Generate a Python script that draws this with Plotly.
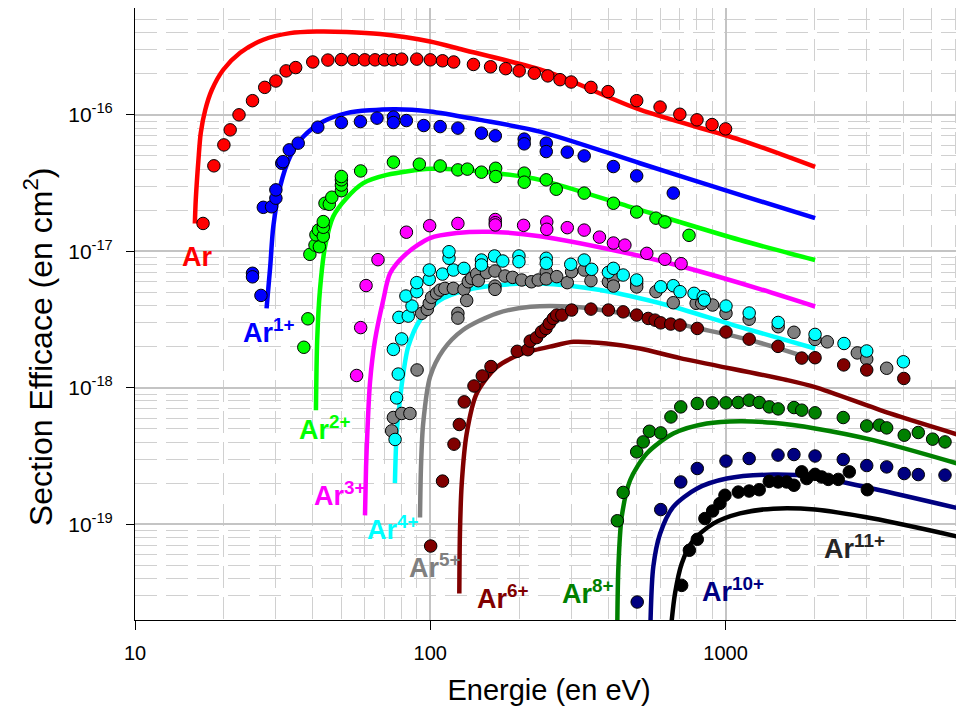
import math
import plotly.graph_objects as go

# ---------------- data ----------------
# Ar (neutral)
ar_E = [17, 18.5, 20, 21, 22.5, 25, 27.5, 30, 32.5, 35, 40, 45, 50, 55, 60, 65, 70, 75, 80, 90,
        100, 110, 120, 140, 160, 180, 200, 225, 250, 275, 300, 350, 400, 500, 600, 700, 800, 900, 1000]
ar_S = [1.60e-17, 4.23e-17, 6.02e-17, 7.76e-17, 1.00e-16, 1.27e-16, 1.59e-16, 1.77e-16, 2.10e-16, 2.22e-16,
        2.44e-16, 2.52e-16, 2.54e-16, 2.54e-16, 2.53e-16, 2.53e-16, 2.53e-16, 2.53e-16, 2.56e-16, 2.56e-16,
        2.53e-16, 2.49e-16, 2.44e-16, 2.34e-16, 2.25e-16, 2.18e-16, 2.10e-16, 2.02e-16, 1.93e-16, 1.81e-16,
        1.74e-16, 1.59e-16, 1.48e-16, 1.27e-16, 1.14e-16, 1.01e-16, 9.19e-17, 8.49e-17, 7.89e-17]
ar_fit_E = [15.95, 16.06, 16.4, 16.7, 17.3, 18.2, 19.9, 22.7, 27.2, 33.5, 41.2, 52.1, 67.6, 99.8, 129, 248, 513, 1119, 2010]
ar_fit_S = [1.6e-17, 2.38e-17, 4.68e-17, 7.38e-17, 1.09e-16, 1.52e-16, 2.14e-16, 2.85e-16, 3.55e-16, 3.97e-16,
            4.08e-16, 4.05e-16, 3.91e-16, 3.45e-16, 3.0e-16, 2.07e-16, 1.09e-16, 6.56e-17, 4.15e-17]

# Ar1+
ar1_E = [25, 25, 26.7, 27.2, 29, 30, 30, 31.4, 31.7, 33.3, 35.7, 41.6, 50, 58, 66, 75, 75, 83, 95, 108,
         124, 149, 166, 208, 208, 247, 247, 291, 332, 417, 500, 665]
ar1_S = [6.9e-18, 6.5e-18, 4.75e-18, 2.10e-17, 2.12e-17, 2.45e-17, 2.82e-17, 4.42e-17, 4.54e-17, 5.54e-17,
         6.2e-17, 8.12e-17, 8.78e-17, 8.93e-17, 9.46e-17, 9.62e-17, 8.78e-17, 9.08e-17, 8.35e-17, 8.2e-17,
         7.99e-17, 7.34e-17, 7.02e-17, 6.64e-17, 6.13e-17, 6.2e-17, 5.38e-17, 5.33e-17, 5.0e-17, 4.18e-17,
         3.57e-17, 2.67e-17]
ar1_fit_E = [27.9, 28.7, 29.4, 31.0, 33.5, 37.2, 43.4, 52.1, 75.0, 99.8, 147, 235, 513, 1119, 2010]
ar1_fit_S = [3.82e-18, 7.71e-18, 1.52e-17, 2.98e-17, 4.94e-17, 6.93e-17, 8.93e-17, 1.03e-16, 1.10e-16,
             1.06e-16, 9.19e-17, 7.54e-17, 4.42e-17, 2.59e-17, 1.75e-17]

# Ar2+
ar2_E = [37.3, 38.5, 39.1, 40.7, 42.1, 41.0, 41.8, 43.4, 43.4, 43.4, 44, 45.5, 46.4, 50, 50, 50, 50, 58.1, 75, 91.8,
         108, 124, 133.5, 149, 166.5, 166.5, 208, 208, 247, 267, 332, 417, 500, 581, 623, 752]
ar2_S = [1.98e-18, 3.2e-18, 9.5e-18, 1.11e-17, 1.08e-17, 1.32e-17, 1.43e-17, 1.29e-17, 1.50e-17, 1.65e-17,
         2.25e-17, 2.21e-17, 2.49e-17, 2.78e-17, 3.06e-17, 3.34e-17, 3.53e-17, 3.88e-17, 4.5e-17, 4.35e-17,
         4.22e-17, 3.95e-17, 4.0e-17, 3.8e-17, 4.06e-17, 3.53e-17, 3.74e-17, 3.21e-17, 3.34e-17, 2.85e-17,
         2.67e-17, 2.25e-17, 1.94e-17, 1.75e-17, 1.64e-17, 1.31e-17]
ar2_fit_E = [41.0, 41.4, 42.3, 44.0, 46.9, 52.1, 59.3, 71.2, 99.8, 129, 168, 235, 513, 1119, 2010]
ar2_fit_S = [6.85e-19, 2.24e-18, 5.2e-18, 1.08e-17, 1.80e-17, 2.46e-17, 3.16e-17, 3.63e-17, 4.02e-17,
             3.95e-17, 3.74e-17, 3.34e-17, 2.01e-17, 1.21e-17, 8.63e-18]

# Ar3+
ar3_E = [56.3, 58.1, 60.6, 66.5, 83, 99.5, 124, 166, 166, 166, 207, 248, 248, 291, 332, 374, 417, 456, 541, 623, 707]
ar3_S = [1.23e-18, 2.76e-18, 5.61e-18, 8.68e-18, 1.38e-17, 1.54e-17, 1.60e-17, 1.71e-17, 1.62e-17, 1.56e-17,
         1.55e-17, 1.64e-17, 1.45e-17, 1.49e-17, 1.43e-17, 1.27e-17, 1.15e-17, 1.11e-17, 9.66e-18, 8.74e-18, 8.11e-18]
ar3_fit_E = [60.1, 60.6, 61.2, 62.5, 65.0, 69.3, 73.1, 83.2, 99.8, 122.8, 159, 235, 513, 701, 1308, 2010]
ar3_fit_S = [1.16e-19, 2.63e-19, 4.62e-19, 1.10e-18, 2.24e-18, 4.39e-18, 6.9e-18, 9.66e-18, 1.25e-17,
             1.36e-17, 1.39e-17, 1.29e-17, 9.24e-18, 7.8e-18, 5.29e-18, 3.94e-18]

# Ar4+
ar4_E = [76, 76.9, 77.9, 75, 80, 78.3, 84.2, 86.7, 82.7, 90, 90, 99.2, 99.2, 110, 119.7, 130, 115.7, 115.7, 149, 149,
         165, 176, 199.6, 199.6, 247, 247, 299, 332, 352, 401, 417, 450, 500, 603, 665, 701, 782, 840, 848, 1003,
         1202, 1507, 2009, 2518, 3006, 4000]
ar4_S = [4.18e-19, 8.43e-19, 1.26e-18, 1.91e-18, 2.28e-18, 3.28e-18, 3.35e-18, 3.97e-18, 4.7e-18, 5.06e-18,
         5.89e-18, 6.23e-18, 7.29e-18, 6.81e-18, 7.29e-18, 7.5e-18, 8.89e-18, 9.93e-18, 8.63e-18, 7.94e-18,
         9.24e-18, 8.49e-18, 9.24e-18, 8.39e-18, 8.89e-18, 8.17e-18, 8.03e-18, 8.63e-18, 7.38e-18, 7.01e-18,
         7.5e-18, 6.7e-18, 6.16e-18, 5.5e-18, 5.6e-18, 5.06e-18, 4.92e-18, 4.65e-18, 4.39e-18, 3.97e-18,
         3.53e-18, 3.01e-18, 2.46e-18, 2.11e-18, 1.86e-18, 1.55e-18]
ar4_fit_E = [75.9, 76.9, 78.9, 81.0, 84.2, 92.3, 108, 132.8, 172, 235, 376, 632, 1062, 2010]
ar4_fit_S = [2.0e-19, 4.62e-19, 8.1e-19, 1.27e-18, 2.0e-18, 3.13e-18, 4.39e-18, 5.2e-18, 5.66e-18,
             5.82e-18, 5.2e-18, 4.04e-18, 2.88e-18, 1.94e-18]

# Ar5+
ar5_E = [74, 75, 80, 85.3, 90.2, 93.5, 97.7, 99.2, 101, 105, 108, 112, 119.7, 124, 124, 130, 132.8, 134.5, 138, 143.6,
         145.4, 155, 165.6, 165.6, 165.6, 179, 190, 204, 220, 232, 247, 247, 268, 291, 301, 332, 350, 401, 417, 417,
         500, 500, 581, 665, 795, 830, 904, 1003, 1202, 1507, 1704, 2009, 2210, 2793, 3006, 3512]
ar5_S = [4.83e-19, 6.05e-19, 6.48e-19, 6.48e-19, 1.35e-18, 3.51e-18, 3.75e-18, 4.15e-18, 4.6e-18, 4.92e-18,
         5.2e-18, 5.35e-18, 5.35e-18, 3.51e-18, 3.24e-18, 5.26e-18, 4.36e-18, 5.98e-18, 6.34e-18, 6.82e-18,
         6.09e-18, 6.97e-18, 7.17e-18, 5.56e-18, 5.26e-18, 6.59e-18, 6.44e-18, 6.16e-18, 5.98e-18, 6.16e-18,
         7.08e-18, 6.28e-18, 6.52e-18, 5.89e-18, 7.08e-18, 7.29e-18, 6.09e-18, 5.98e-18, 6.34e-18, 5.56e-18,
         5.82e-18, 5.48e-18, 5.06e-18, 4.2e-18, 4.16e-18, 4.16e-18, 4.04e-18, 3.51e-18, 3.18e-18, 2.8e-18,
         2.55e-18, 2.26e-18, 2.17e-18, 1.80e-18, 1.62e-18, 1.39e-18]
ar5_fit_E = [92.3, 93.0, 94.6, 99.8, 110.6, 129, 168, 218, 305, 555, 798, 1210, 2010]
ar5_fit_S = [1.12e-19, 2.63e-19, 5.47e-19, 1.2e-18, 1.89e-18, 2.65e-18, 3.51e-18, 3.92e-18, 3.92e-18,
             3.24e-18, 2.74e-18, 2.24e-18, 1.60e-18]

# Ar6+
ar6_E = [100.3, 110, 120.3, 125.4, 130.3, 140.6, 150, 160.5, 197, 214, 218, 229, 238, 246.5, 253, 261, 268, 279, 301, 350,
         401, 450, 500, 547, 577, 603, 652, 701, 802, 1003, 1202, 1505, 1811, 2009, 2512, 3006, 4013]
ar6_S = [6.92e-20, 2.07e-19, 3.86e-19, 5.38e-19, 7.88e-19, 1.03e-18, 1.22e-18, 1.43e-18, 1.85e-18, 1.90e-18,
         2.2e-18, 2.33e-18, 2.57e-18, 2.72e-18, 2.96e-18, 3.22e-18, 3.41e-18, 3.41e-18, 3.71e-18, 3.77e-18,
         3.71e-18, 3.6e-18, 3.41e-18, 3.22e-18, 3.13e-18, 2.99e-18, 2.93e-18, 2.88e-18, 2.72e-18, 2.56e-18,
         2.27e-18, 2.01e-18, 1.65e-18, 1.66e-18, 1.47e-18, 1.35e-18, 1.17e-18]
ar6_fit_E = [125.4, 126, 127.8, 132.8, 143.6, 168, 206.5, 254, 305, 395, 513, 701, 1610, 2010, 3602, 6214]
ar6_fit_S = [3.1e-20, 8.5e-20, 1.99e-19, 4.62e-19, 9.08e-19, 1.42e-18, 1.79e-18, 2.0e-18, 2.17e-18, 2.11e-18,
             1.94e-18, 1.65e-18, 1.14e-18, 1.01e-18, 6.48e-19, 4.49e-19]

# Ar8+
ar8_E = [430, 450, 500, 526, 552, 603, 653, 705, 802, 902, 1003, 1104, 1202, 1300, 1406, 1507, 1704, 1811, 2009, 2503,
         3006, 3315, 3512, 4027, 4494, 5025, 5534]
ar8_S = [1.06e-19, 1.71e-19, 3.39e-19, 4.01e-19, 4.8e-19, 4.67e-19, 6.11e-19, 7.24e-19, 7.67e-19, 7.75e-19,
         7.75e-19, 7.8e-19, 8.1e-19, 7.8e-19, 7.24e-19, 7.0e-19, 7.16e-19, 6.85e-19, 6.55e-19, 6.05e-19,
         5.25e-19, 5.32e-19, 5.08e-19, 4.49e-19, 4.7e-19, 4.2e-19, 4.01e-19]
ar8_fit_E = [430, 433.5, 444.8, 475, 541, 665, 863, 1119, 1450, 2010, 3163, 6214]
ar8_fit_S = [1.97e-20, 4.85e-20, 1.13e-19, 2.1e-19, 3.3e-19, 4.62e-19, 5.47e-19, 5.69e-19, 5.53e-19,
             5.03e-19, 4.13e-19, 2.75e-19]

# Ar10+
ar10_E = [502, 603, 705, 802, 1003, 1202, 1505, 1704, 2009, 2503, 3006, 3512, 4027, 4494, 5534]
ar10_S = [2.69e-20, 1.28e-19, 2.04e-19, 2.56e-19, 2.9e-19, 3.03e-19, 3.21e-19, 3.24e-19, 3.16e-19, 2.98e-19,
          2.69e-19, 2.63e-19, 2.35e-19, 2.31e-19, 2.29e-19]
ar10_fit_E = [557, 569, 600, 665, 798, 1009, 1450, 2010, 3163, 6214]
ar10_fit_S = [1.97e-20, 4.85e-20, 8.5e-20, 1.34e-19, 1.82e-19, 2.16e-19, 2.31e-19, 2.22e-19, 1.82e-19, 1.30e-19]

# Ar11+
ar11_E = [710, 754, 802, 851, 904, 957, 995, 1104, 1202, 1300, 1406, 1507, 1610, 1704, 1811, 1882, 2009, 2115,
          2228, 2408, 2624, 3020]
ar11_S = [3.56e-20, 6.44e-20, 7.75e-20, 1.10e-19, 1.25e-19, 1.42e-19, 1.63e-19, 1.72e-19, 1.75e-19, 1.79e-19,
          2.06e-19, 2.04e-19, 2.04e-19, 1.93e-19, 2.42e-19, 2.16e-19, 2.32e-19, 2.22e-19, 2.13e-19, 2.13e-19,
          2.42e-19, 1.79e-19]
ar11_fit_E = [657, 674, 710, 777, 908, 1119, 1450, 2010, 3163, 6214]
ar11_fit_S = [1.97e-20, 3.1e-20, 5.14e-20, 7.6e-20, 1.01e-19, 1.2e-19, 1.3e-19, 1.28e-19, 1.10e-19, 8.05e-20]

# labels
label_text = ["Ar", "Ar<sup>1+</sup>", "Ar<sup>2+</sup>", "Ar<sup>3+</sup>", "Ar<sup>4+</sup>",
              "Ar<sup>5+</sup>", "Ar<sup>6+</sup>", "Ar<sup>8+</sup>", "Ar<sup>10+</sup>", "Ar<sup>11+</sup>"]
label_E = [14.2, 22.9, 35.4, 39.7, 60.1, 83.4, 141.6, 275, 818, 2118]
label_S = [9.08e-18, 2.6e-18, 5.1e-19, 1.66e-19, 9.33e-20, 4.95e-20, 2.93e-20, 3.19e-20, 3.27e-20, 6.83e-20]

x_tickvals = [10, 100, 1000]
x_ticktext = ["10", "100", "1000"]
y_tickvals = [1e-19, 1e-18, 1e-17, 1e-16]
y_ticktext = ["10<sup>-19</sup>", "10<sup>-18</sup>", "10<sup>-17</sup>", "10<sup>-16</sup>"]
x_title = "Energie (en eV)"
y_title = "Section Efficace (en cm<sup>2</sup>)"

# ---------------- figure ----------------
series = [
    (ar_E, ar_S, ar_fit_E, ar_fit_S, "#ff0000"),
    (ar1_E, ar1_S, ar1_fit_E, ar1_fit_S, "#0000ff"),
    (ar2_E, ar2_S, ar2_fit_E, ar2_fit_S, "#00ff00"),
    (ar3_E, ar3_S, ar3_fit_E, ar3_fit_S, "#ff00ff"),
    (ar5_E, ar5_S, ar5_fit_E, ar5_fit_S, "#808080"),
    (ar4_E, ar4_S, ar4_fit_E, ar4_fit_S, "#00ffff"),
    (ar6_E, ar6_S, ar6_fit_E, ar6_fit_S, "#800000"),
    (ar8_E, ar8_S, ar8_fit_E, ar8_fit_S, "#008000"),
    (ar10_E, ar10_S, ar10_fit_E, ar10_fit_S, "#000080"),
    (ar11_E, ar11_S, ar11_fit_E, ar11_fit_S, "#000000"),
]
label_colors = ["#ff0000", "#0000ff", "#00ff00", "#ff00ff", "#00ffff", "#808080",
                "#800000", "#008000", "#000080", "#262626"]

fig = go.Figure()
for E, S, fE, fS, col in series:
    fig.add_trace(go.Scatter(x=fE, y=fS, mode="lines",
                             line=dict(color=col, width=4.5, shape="spline", smoothing=0.8),
                             showlegend=False, hoverinfo="skip"))
for E, S, fE, fS, col in series:
    fig.add_trace(go.Scatter(x=E, y=S, mode="markers",
                             marker=dict(color=col, size=12.5, line=dict(color="#000000", width=1)),
                             showlegend=False))

font_main = "Arial, Liberation Sans, sans-serif"
for txt, e, s, c in zip(label_text, label_E, label_S, label_colors):
    fig.add_annotation(x=math.log10(e), y=math.log10(s), xref="x", yref="y",
                       text="<b>" + txt + "</b>", showarrow=False,
                       xanchor="left", yanchor="middle",
                       font=dict(family=font_main, size=27, color=c))

# y-axis title (placed as a rotated annotation, left of the tick labels)
fig.add_annotation(x=-0.117, y=0.446, xref="paper", yref="paper",
                   text=y_title, textangle=-90, showarrow=False,
                   xanchor="center", yanchor="middle",
                   font=dict(family=font_main, size=32, color="#000000"))

minor_x = [m * 10 ** k for k in range(1, 4) for m in range(2, 10)]
minor_y = [m * 10.0 ** k for k in range(-20, -15) for m in range(2, 10)]

grid_major = "#c4c4c4"
grid_minor = "#d0d0d0"

fig.update_xaxes(type="log", range=[1.0, 3.804],
                 tickmode="array", tickvals=x_tickvals, ticktext=x_ticktext,
                 ticks="outside", ticklen=9, tickcolor="#000000", ticklabelstandoff=6,
                 showline=True, linecolor="#000000", linewidth=1, mirror=True,
                 showgrid=True, gridcolor=grid_major, gridwidth=1.5,
                 minor=dict(tickmode="array", tickvals=minor_x, showgrid=True,
                            gridcolor=grid_minor, griddash="22px,9px", gridwidth=1.2, ticks=""),
                 tickfont=dict(family=font_main, size=20, color="#000000"),
                 title=dict(text=x_title, font=dict(family=font_main, size=29, color="#000000"),
                            standoff=16),
                 zeroline=False)
fig.update_yaxes(type="log", range=[-19.702, -15.217],
                 tickmode="array", tickvals=y_tickvals, ticktext=y_ticktext,
                 ticks="outside", ticklen=8, tickcolor="#000000", ticklabelstandoff=9,
                 showline=True, linecolor="#000000", linewidth=1, mirror=True,
                 showgrid=True, gridcolor=grid_major, gridwidth=1.5,
                 minor=dict(tickmode="array", tickvals=minor_y, showgrid=True,
                            gridcolor=grid_minor, griddash="22px,9px", gridwidth=1.2, ticks=""),
                 tickfont=dict(family=font_main, size=21, color="#000000"),
                 zeroline=False)

fig.update_layout(width=964, height=707,
                  margin=dict(l=127, r=9, t=0, b=95, autoexpand=False),
                  plot_bgcolor="#ffffff", paper_bgcolor="#ffffff",
                  showlegend=False)

fig.write_html("out.html")
